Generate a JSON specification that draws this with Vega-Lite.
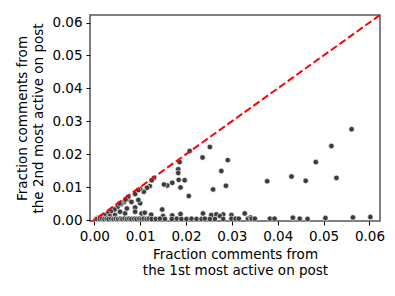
{
  "$schema": "https://vega.github.io/schema/vega-lite/v6.json",
  "autosize": "none",
  "width": 290,
  "height": 206,
  "padding": {"left": 90, "top": 15, "right": 5, "bottom": 75},
  "config": {
    "view": {"stroke": "#555555", "strokeWidth": 1.5},
    "font": "DejaVu Sans",
    "axis": {
      "grid": false,
      "domain": false,
      "tickColor": "#000000",
      "tickSize": 4,
      "tickWidth": 1,
      "labelFont": "DejaVu Sans",
      "labelFontSize": 13.5,
      "labelColor": "#000000",
      "labelPadding": 4,
      "labelOverlap": false,
      "titleFont": "DejaVu Sans",
      "titleFontSize": 13.5,
      "titleFontWeight": "normal",
      "titleColor": "#000000",
      "titleLineHeight": 16
    }
  },
  "datasets": {
    "points": [
      {"x": 0.0561, "y": 0.0276}, {"x": 0.0517, "y": 0.0225}, {"x": 0.0483, "y": 0.0176}, {"x": 0.0528, "y": 0.0128},
      {"x": 0.0430, "y": 0.0132}, {"x": 0.0461, "y": 0.0119}, {"x": 0.0377, "y": 0.0118}, {"x": 0.0291, "y": 0.0182},
      {"x": 0.0277, "y": 0.0149}, {"x": 0.0287, "y": 0.0104}, {"x": 0.0259, "y": 0.0093}, {"x": 0.0252, "y": 0.0222},
      {"x": 0.0236, "y": 0.0190}, {"x": 0.0208, "y": 0.0210}, {"x": 0.0186, "y": 0.0176}, {"x": 0.0183, "y": 0.0154},
      {"x": 0.0183, "y": 0.0143}, {"x": 0.0184, "y": 0.0122}, {"x": 0.0197, "y": 0.0121}, {"x": 0.0188, "y": 0.0099},
      {"x": 0.0206, "y": 0.0073}, {"x": 0.0170, "y": 0.0113}, {"x": 0.0159, "y": 0.0105}, {"x": 0.0152, "y": 0.0108},
      {"x": 0.0130, "y": 0.0128}, {"x": 0.0125, "y": 0.0121}, {"x": 0.0121, "y": 0.0103}, {"x": 0.0108, "y": 0.0086},
      {"x": 0.0100, "y": 0.0094}, {"x": 0.0089, "y": 0.0079}, {"x": 0.0148, "y": 0.0032}, {"x": 0.0115, "y": 0.0098},
      {"x": 0.0073, "y": 0.0063}, {"x": 0.0065, "y": 0.0055}, {"x": 0.0058, "y": 0.0048}, {"x": 0.0051, "y": 0.0040},
      {"x": 0.0044, "y": 0.0032}, {"x": 0.0036, "y": 0.0026}, {"x": 0.0029, "y": 0.0020}, {"x": 0.0022, "y": 0.0014},
      {"x": 0.0015, "y": 0.0010}, {"x": 0.0081, "y": 0.0055}, {"x": 0.0100, "y": 0.0051}, {"x": 0.0089, "y": 0.0038},
      {"x": 0.0071, "y": 0.0035}, {"x": 0.0067, "y": 0.0020}, {"x": 0.0103, "y": 0.0020}, {"x": 0.0110, "y": 0.0022},
      {"x": 0.0056, "y": 0.0025}, {"x": 0.0045, "y": 0.0015}, {"x": 0.0034, "y": 0.0012}, {"x": 0.0096, "y": 0.0091},
      {"x": 0.0096, "y": 0.0061}, {"x": 0.0089, "y": 0.0025}, {"x": 0.0074, "y": 0.0071}, {"x": 0.0068, "y": 0.0062},
      {"x": 0.0055, "y": 0.0050}, {"x": 0.0008, "y": 0.0006}, {"x": 0.0004, "y": 0.0003},
      {"x": 0.0124, "y": 0.0016}, {"x": 0.0150, "y": 0.0012}, {"x": 0.0170, "y": 0.0014}, {"x": 0.0188, "y": 0.0018},
      {"x": 0.0237, "y": 0.0020}, {"x": 0.0255, "y": 0.0015}, {"x": 0.0266, "y": 0.0017}, {"x": 0.0281, "y": 0.0017},
      {"x": 0.0299, "y": 0.0015}, {"x": 0.0328, "y": 0.0020}, {"x": 0.0274, "y": 0.0012},
      {"x": 0.0006, "y": 0.0003}, {"x": 0.0012, "y": 0.0003}, {"x": 0.0017, "y": 0.0004}, {"x": 0.0022, "y": 0.0003},
      {"x": 0.0027, "y": 0.0004}, {"x": 0.0031, "y": 0.0003}, {"x": 0.0037, "y": 0.0004}, {"x": 0.0042, "y": 0.0003},
      {"x": 0.0047, "y": 0.0004}, {"x": 0.0052, "y": 0.0003}, {"x": 0.0057, "y": 0.0004}, {"x": 0.0061, "y": 0.0003},
      {"x": 0.0066, "y": 0.0004}, {"x": 0.0071, "y": 0.0003}, {"x": 0.0076, "y": 0.0004}, {"x": 0.0081, "y": 0.0003},
      {"x": 0.0087, "y": 0.0004}, {"x": 0.0092, "y": 0.0003}, {"x": 0.0098, "y": 0.0004}, {"x": 0.0103, "y": 0.0003},
      {"x": 0.0108, "y": 0.0004}, {"x": 0.0114, "y": 0.0003}, {"x": 0.0119, "y": 0.0004}, {"x": 0.0125, "y": 0.0003},
      {"x": 0.0134, "y": 0.0003}, {"x": 0.0143, "y": 0.0004}, {"x": 0.0154, "y": 0.0003}, {"x": 0.0169, "y": 0.0003},
      {"x": 0.0180, "y": 0.0004}, {"x": 0.0190, "y": 0.0003}, {"x": 0.0201, "y": 0.0003}, {"x": 0.0212, "y": 0.0004},
      {"x": 0.0223, "y": 0.0003}, {"x": 0.0234, "y": 0.0003}, {"x": 0.0241, "y": 0.0004}, {"x": 0.0252, "y": 0.0003},
      {"x": 0.0263, "y": 0.0003}, {"x": 0.0281, "y": 0.0003}, {"x": 0.0299, "y": 0.0004}, {"x": 0.0308, "y": 0.0004},
      {"x": 0.0315, "y": 0.0004}, {"x": 0.0335, "y": 0.0004}, {"x": 0.0341, "y": 0.0008}, {"x": 0.0343, "y": 0.0004},
      {"x": 0.0350, "y": 0.0004}, {"x": 0.0383, "y": 0.0004}, {"x": 0.0393, "y": 0.0004}, {"x": 0.0433, "y": 0.0007},
      {"x": 0.0448, "y": 0.0004}, {"x": 0.0465, "y": 0.0003}, {"x": 0.0504, "y": 0.0006}, {"x": 0.0564, "y": 0.0008},
      {"x": 0.0602, "y": 0.0009}
    ],
    "diag": [{"x": -0.001, "y": -0.001}, {"x": 0.0623, "y": 0.0623}]
  },
  "encoding": {
    "x": {"field": "x", "type": "quantitative",
          "scale": {"domain": [-0.00094, 0.0623], "nice": false, "zero": false},
          "axis": {"values": [0, 0.01, 0.02, 0.03, 0.04, 0.05, 0.06], "format": ".2f", "labelOverlap": false,
                   "title": ["Fraction comments from", "the 1st most active on post"], "titlePadding": 5}},
    "y": {"field": "y", "type": "quantitative",
          "scale": {"domain": [-0.0003, 0.0623], "nice": false, "zero": false},
          "axis": {"values": [0, 0.01, 0.02, 0.03, 0.04, 0.05, 0.06], "format": ".2f", "labelOverlap": false,
                   "title": ["Fraction comments from", "the 2nd most active on post"], "titlePadding": 6}}
  },
  "layer": [
    {
      "data": {"name": "points"},
      "mark": {"type": "point", "filled": true, "size": 30, "color": "#3c3c3c", "opacity": 1, "stroke": "#ffffff", "strokeWidth": 0.6}
    },
    {
      "data": {"name": "diag"},
      "mark": {"type": "line", "color": "#ff0000", "strokeWidth": 2, "strokeDash": [7.4, 3.2], "clip": true}
    }
  ]
}
